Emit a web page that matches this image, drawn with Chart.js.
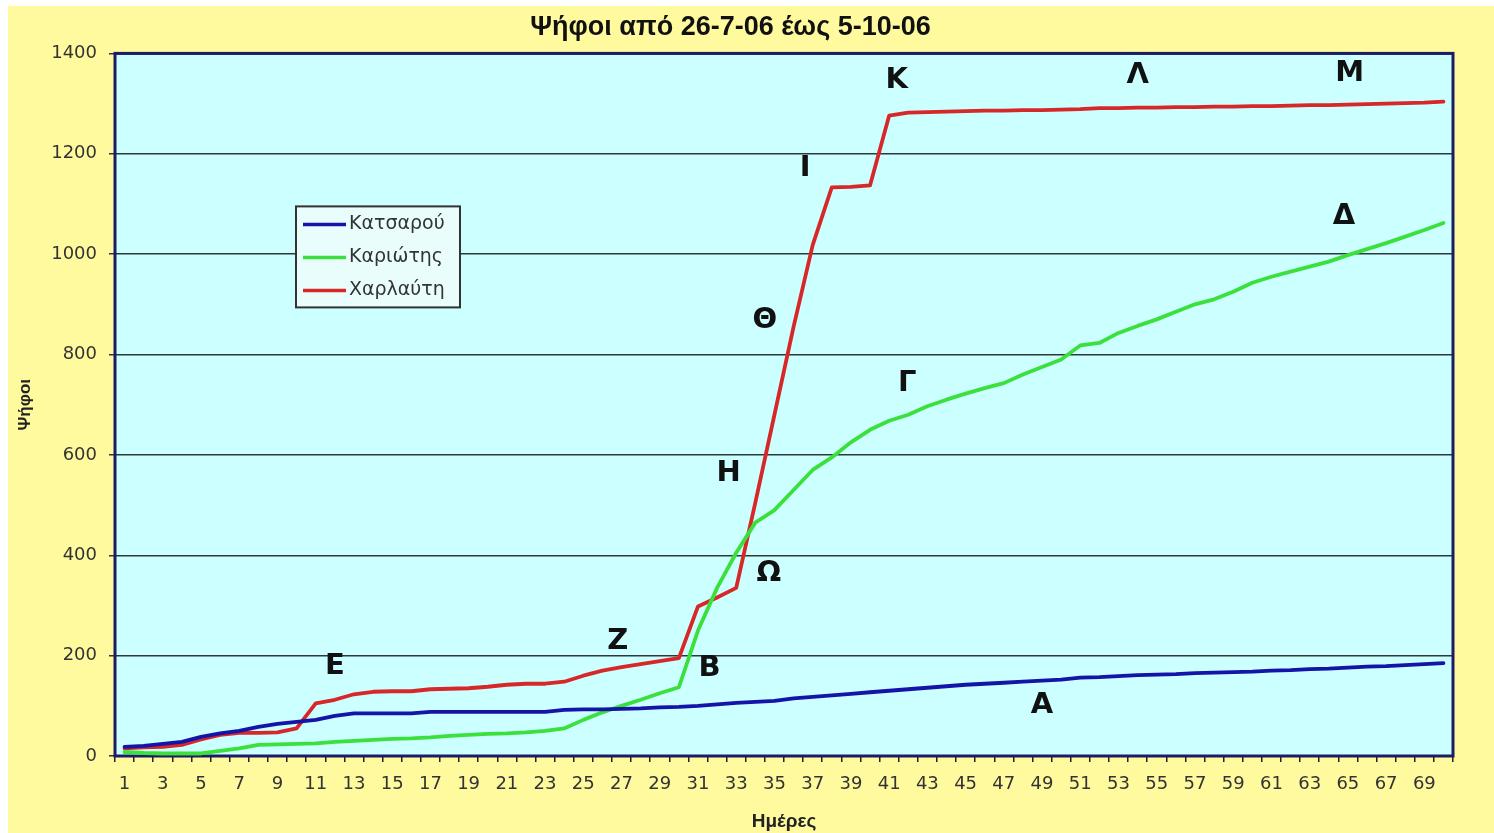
<!DOCTYPE html>
<html>
<head>
<meta charset="utf-8">
<script src="https://cdn.jsdelivr.net/npm/chart.js@4/dist/chart.umd.min.js"></script>
<style>
html,body{margin:0;padding:0;background:#fff;overflow:hidden;}
#wrap{position:relative;width:1494px;height:833px;}
canvas{display:block;}
</style>
</head>
<body>
<div id="wrap"><canvas id="c" width="1494" height="833"></canvas></div>
<script>
// ---- data ----
const days = [1,2,3,4,5,6,7,8,9,10,11,12,13,14,15,16,17,18,19,20,21,22,23,24,25,26,27,28,29,30,31,32,33,34,35,36,37,38,39,40,41,42,43,44,45,46,47,48,49,50,51,52,53,54,55,56,57,58,59,60,61,62,63,64,65,66,67,68,69,70];

const katsarou = [18,20,24,28,38,45,50,58,64,68,72,80,85,85,85,85,88,88,88,88,88,88,88,92,93,93,94,95,97,98,100,103,106,108,110,115,118,121,124,127,130,133,136,139,142,144,146,148,150,152,156,157,159,161,162,163,165,166,167,168,170,171,173,174,176,178,179,181,183,185];

const kariotis = [8,6,5,5,5,10,15,22,23,24,25,28,30,32,34,35,37,40,42,44,45,47,50,55,72,87,100,112,125,137,250,335,405,465,490,530,570,595,625,650,668,680,697,710,722,733,743,760,775,790,818,823,843,857,870,885,900,910,925,943,955,965,975,985,998,1010,1022,1035,1048,1062];

const charlafti = [15,17,18,22,33,42,46,46,47,55,105,112,123,128,129,129,133,134,135,138,142,144,144,148,160,170,177,183,189,195,298,316,335,505,680,855,1018,1133,1134,1137,1276,1282,1283,1284,1285,1286,1286,1287,1287,1288,1289,1291,1291,1292,1292,1293,1293,1294,1294,1295,1295,1296,1297,1297,1298,1299,1300,1301,1302,1304];

const seriesNames = ['Κατσαρού','Καριώτης','Χαρλαύτη'];
const yTickValues = [0,200,400,600,800,1000,1200,1400];

// annotation letters (day, votes)
const markLetters = ['Α','Β','Γ','Δ','Ε','Ζ','Η','Θ','Ι','Κ','Λ','Μ','Ω'];
const markDays    = [49.0,31.6,41.95,64.8,12.0,26.8,32.6,34.5,36.6,41.4,54.0,65.1,34.7];
const markVotes   = [100,174,743,1076,179,229,562,868,1171,1346,1356,1360,363];

// ---- styles ----
const COLORS = ['#1414A8','#3CE03C','#D62828'];
const YELLOW = '#FFFA9E';
const PLOT_BG = '#CCFFFF';

const decor = {
  id: 'decor',
  beforeDraw(chart) {
    const {ctx, chartArea: a, width, height} = chart;
    ctx.save();
    ctx.fillStyle = '#ffffff';
    ctx.fillRect(0, 0, width, height);
    ctx.fillStyle = YELLOW;
    ctx.fillRect(8, 6, width - 8, height - 6);
    ctx.fillStyle = PLOT_BG;
    ctx.fillRect(a.left, a.top, a.right - a.left, a.bottom - a.top);
    ctx.restore();
  },
  beforeDatasetsDraw(chart) {
    const {ctx, chartArea: a} = chart;
    ctx.save();
    ctx.strokeStyle = '#1B1B66';
    ctx.lineWidth = 3;
    ctx.strokeRect(a.left, a.top, a.right - a.left, a.bottom - a.top);
    ctx.restore();
  },
  afterDatasetsDraw(chart) {
    const {ctx, chartArea: a, scales} = chart;
    ctx.save();
    // letters
    ctx.fillStyle = '#111';
    ctx.font = 'bold 29px "DejaVu Sans"';
    ctx.textAlign = 'center';
    ctx.textBaseline = 'middle';
    markLetters.forEach((t, i) => {
      const x = scales.x.getPixelForValue(markDays[i] - 1);
      const y = scales.y.getPixelForValue(markVotes[i]);
      ctx.fillText(t, x, y);
    });
    // legend box
    const bx = a.left + 181, by = a.top + 153, bw = 164, bh = 101;
    ctx.fillStyle = '#EAFDFD';
    ctx.fillRect(bx, by, bw, bh);
    ctx.strokeStyle = '#333';
    ctx.lineWidth = 2;
    ctx.strokeRect(bx, by, bw, bh);
    ctx.font = '19px "DejaVu Sans"';
    ctx.textAlign = 'left';
    chart.data.datasets.forEach((ds, i) => {
      const yy = by + 18 + i * 33;
      ctx.strokeStyle = ds.borderColor;
      ctx.lineWidth = 3.5;
      ctx.beginPath();
      ctx.moveTo(bx + 7, yy);
      ctx.lineTo(bx + 50, yy);
      ctx.stroke();
      ctx.fillStyle = '#333';
      ctx.fillText(ds.label, bx + 53, yy);
    });
    ctx.restore();
  }
};

const mk = (label, data, color) => ({
  label, data,
  borderColor: color,
  backgroundColor: color,
  borderWidth: 3.8,
  pointRadius: 0,
  tension: 0,
  fill: false,
  borderJoinStyle: 'round',
  borderCapStyle: 'round'
});

new Chart(document.getElementById('c'), {
  type: 'line',
  data: {
    labels: days,
    datasets: [
      mk(seriesNames[0], katsarou, COLORS[0]),
      mk(seriesNames[1], kariotis, COLORS[1]),
      mk(seriesNames[2], charlafti, COLORS[2])
    ]
  },
  options: {
    responsive: false,
    animation: false,
    devicePixelRatio: 1,
    layout: { padding: { left: 8, top: 6, right: 41, bottom: 0 } },
    plugins: {
      legend: { display: false },
      tooltip: { enabled: false },
      title: {
        display: true,
        text: 'Ψήφοι από 26-7-06 έως 5-10-06',
        color: '#111',
        font: { family: '"Liberation Sans", Arial, sans-serif', size: 27, weight: 'bold' },
        padding: { top: 5, bottom: 10 }
      }
    },
    scales: {
      x: {
        type: 'category',
        offset: true,
        border: { display: false },
        grid: { display: true, drawOnChartArea: false, drawTicks: true, tickLength: 6, color: '#222', lineWidth: 1.5, offset: true },
        ticks: {
          autoSkip: false, maxRotation: 0, minRotation: 0, padding: 12,
          color: '#333',
          font: { family: '"DejaVu Sans"', size: 18 },
          callback: function(v, i) { return i % 2 === 0 ? String(days[i]) : ''; }
        },
        title: {
          display: true, text: 'Ημέρες', color: '#222',
          font: { family: '"Liberation Sans", Arial, sans-serif', size: 19, weight: 'bold' },
          padding: { top: 4, bottom: 0 }
        },
        afterFit(s) { s.height = 77; }
      },
      y: {
        min: 0, max: 1400,
        border: { display: false },
        grid: { color: '#2E3838', lineWidth: 1.5, tickLength: 6, drawTicks: true },
        afterBuildTicks(s) { s.ticks = yTickValues.map(v => ({ value: v })); },
        ticks: {
          color: '#333', padding: 12,
          font: { family: '"DejaVu Sans"', size: 18 },
          callback: function(v) { return String(v); }
        },
        title: {
          display: true, text: 'Ψήφοι', color: '#222',
          font: { family: '"Liberation Sans", Arial, sans-serif', size: 17, weight: 'bold' },
          padding: { top: 7, bottom: 4 }
        },
        afterFit(s) { s.width = 107; }
      }
    }
  },
  plugins: [decor]
});
</script>
</body>
</html>
